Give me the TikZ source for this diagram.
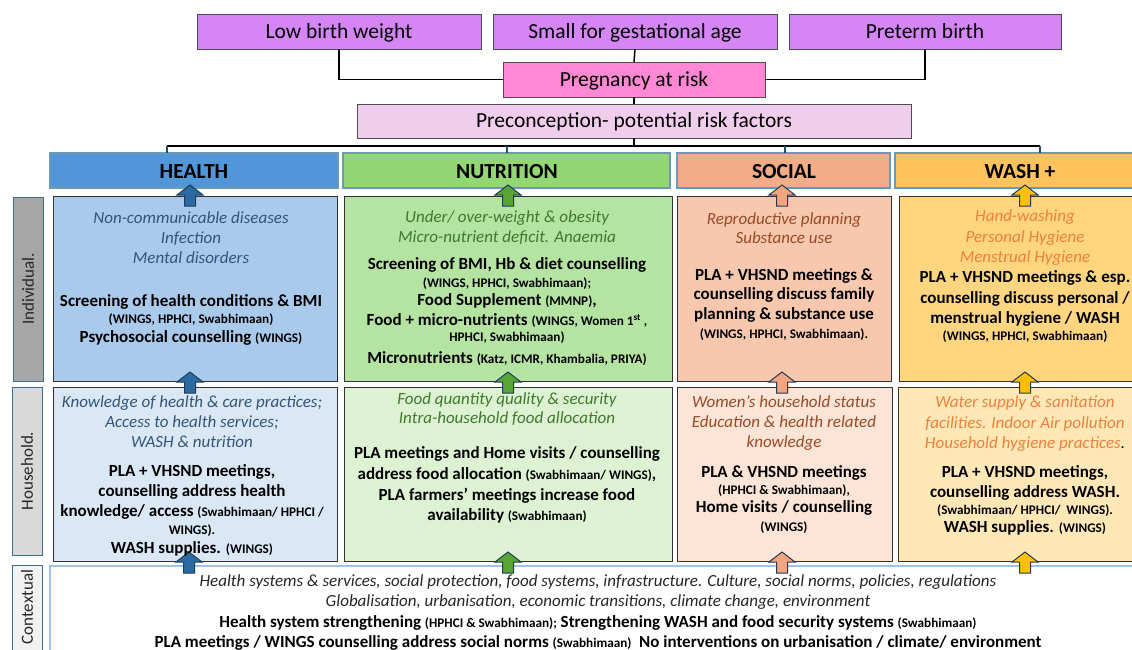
\documentclass[tikz,border=0pt]{standalone}
\usepackage{fontspec}
\setmainfont{Carlito}
\definecolor{violetbox}{HTML}{D685F7}
\definecolor{pinkbox}{HTML}{FF88D4}
\definecolor{preconbox}{HTML}{F0CDEC}
\definecolor{hHead}{HTML}{5096D8}
\definecolor{nHead}{HTML}{92D774}
\definecolor{sHead}{HTML}{F2AC88}
\definecolor{wHead}{HTML}{FFC25C}
\definecolor{hInd}{HTML}{A9CAEB}
\definecolor{nInd}{HTML}{B5E3A2}
\definecolor{sInd}{HTML}{F7C8AE}
\definecolor{wInd}{HTML}{FFD67F}
\definecolor{hHH}{HTML}{DAE8F6}
\definecolor{nHH}{HTML}{DDF2D2}
\definecolor{sHH}{HTML}{FCE4D6}
\definecolor{wHH}{HTML}{FFE8B6}
\definecolor{hIt}{HTML}{34557A}
\definecolor{nIt}{HTML}{3E7A2C}
\definecolor{sIt}{HTML}{9A4A26}
\definecolor{wIt}{HTML}{F0803C}
\definecolor{cIt}{HTML}{262626}
\definecolor{hArr}{HTML}{2C6AA3}
\definecolor{nArr}{HTML}{58A536}
\definecolor{sArr}{HTML}{F4A47E}
\definecolor{wArr}{HTML}{FFC000}
\definecolor{arrEdge}{HTML}{1F3B57}
\definecolor{headEdge}{HTML}{6A9AB8}
\definecolor{labEdge}{HTML}{3A6F92}
\definecolor{ctxEdge}{HTML}{9DC3E6}
\definecolor{busBlue}{HTML}{1F4E79}
\newcommand\titlefont{\fontsize{21.5}{25}\selectfont}
\newcommand\headfont{\fontsize{21.5}{25}\selectfont\bfseries}
\newcommand\itfont{\fontsize{17}{20}\selectfont\itshape}
\newcommand\bdfont{\fontsize{17}{20}\selectfont\bfseries}
\newcommand\smfont{\fontsize{13.2}{15}\selectfont\bfseries}
\newcommand\labfont{\fontsize{17}{20}\selectfont}
\newcommand\sm[1]{{\smfont #1}}
\newcommand\blockarrow[4]{%
  \coordinate (#1) at (#2,#3);
  \draw[arrEdge, line width=1pt, line join=miter, fill=#4] (#1) -- ++(13,10) -- ++(-7.5,0) -- ++(0,11) -- ++(-11,0) -- ++(0,-11) -- ++(-7.5,0) -- cycle;}
\begin{document}
\begin{tikzpicture}[x=1pt,y=-1pt,
  every node/.style={inner sep=0pt, outer sep=0pt},
  topbox/.style={draw=black!70, line width=0.8pt, fill=violetbox, font=\titlefont, text height=17pt, text depth=3pt},
  headbox/.style={draw=headEdge, line width=1.2pt},
  headtext/.style={anchor=base, font=\headfont},
  cellbox/.style={draw=black!80, line width=0.9pt, anchor=north west},
  labbox/.style={draw=labEdge, line width=1pt, anchor=north west},
  labtext/.style={rotate=90, font=\labfont, text=black!85},
  it/.style={anchor=base, font=\itfont},
  bd/.style={anchor=base, font=\bdfont},
  sm/.style={anchor=base, font=\smfont},
  link/.style={line width=1.5pt, black}
]
\useasboundingbox (0,0) rectangle (1132,650);
\clip (0,0) rectangle (1132,650);

% top outcome boxes
\node[topbox, minimum width=284, minimum height=35] (lbw) at (339,31.5) {Low birth weight};
\node[topbox, minimum width=284, minimum height=35] (sga) at (635,31.5) {Small for gestational age};
\node[topbox, minimum width=272, minimum height=35] (ptb) at (925,31.5) {Preterm birth};
\node[topbox, fill=pinkbox, minimum width=262, minimum height=35] (preg) at (634,79.5) {Pregnancy at risk};
\node[topbox, fill=preconbox, minimum width=554, minimum height=34] (precon) at (634,121) {Preconception- potential risk factors};

\draw[link] (lbw.south) |- (preg.west);
\draw[link] (sga.south) -- (preg.north);
\draw[link] (ptb.south) |- (preg.east);
\draw[link] (preg.south) -- (precon.north);

% column headers
\node[headbox, fill=hHead, minimum width=288, minimum height=35, anchor=north west] (hhead) at (50,153) {};
\node[headbox, fill=nHead, minimum width=327, minimum height=35, anchor=north west] (nhead) at (343,153) {};
\node[headbox, fill=sHead, minimum width=213, minimum height=35, anchor=north west] (shead) at (677,153) {};
\node[headbox, fill=wHead, minimum width=253, minimum height=35, anchor=north west] (whead) at (895,153) {};
\node[headtext] (hheadt) at (194,178) {HEALTH};
\node[headtext] (nheadt) at (507,178) {NUTRITION};
\node[headtext] (sheadt) at (784,178) {SOCIAL};
\node[headtext] (wheadt) at (1020,178) {WASH +};

% bus
\coordinate (busL) at (167,146);
\coordinate (busR) at (1040,146);
\coordinate (busN) at (507,146);
\coordinate (busS) at (785,146);
\draw[link] (precon.south) -- (precon.south |- busL);
\draw[link] (busL) -- (busR);
\draw[line width=1.3pt, busBlue] (busL) -- (busL |- hhead.north);
\draw[line width=1.3pt, busBlue] (busN) -- (busN |- nhead.north);
\draw[line width=1.3pt, busBlue] (busS) -- (busS |- shead.north);
\draw[line width=1.3pt, busBlue] (busR) -- (busR |- whead.north);

% row labels
\node[labbox, fill=black!35, minimum width=30, minimum height=184] (labI) at (13,197) {};
\node[labtext] (labIt) at (28,289) {Individual.};
\node[labbox, fill=black!15, minimum width=30, minimum height=168] (labH) at (12,387) {};
\node[labtext] (labHt) at (27,471) {Household.};
\node[labbox, fill=black!5, minimum width=30, minimum height=90] (labC) at (12,565) {};
\node[labtext] (labCt) at (27,607) {Contextual};

% individual cells
\node[cellbox, fill=hInd, minimum width=284, minimum height=185] (hind) at (53,196) {};
\node[cellbox, fill=nInd, minimum width=328, minimum height=185] (nind) at (344,196) {};
\node[cellbox, fill=sInd, minimum width=214, minimum height=185] (sind) at (677,196) {};
\node[cellbox, fill=wInd, minimum width=252, minimum height=185] (wind) at (899,196) {};

% household cells
\node[cellbox, fill=hHH, minimum width=284, minimum height=174] (hhh) at (53,387) {};
\node[cellbox, fill=nHH, minimum width=328, minimum height=174] (nhh) at (344,387) {};
\node[cellbox, fill=sHH, minimum width=215, minimum height=174] (shh) at (677,387) {};
\node[cellbox, fill=wHH, minimum width=253, minimum height=174] (whh) at (898,387) {};

% contextual box
\node[cellbox, draw=ctxEdge, line width=1.5pt, fill=white, minimum width=1096, minimum height=120] (ctx) at (50,566) {};

% arrows
\blockarrow{ha1}{190}{185}{hArr}
\blockarrow{na1}{508}{185}{nArr}
\blockarrow{sa1}{782}{185}{sArr}
\blockarrow{wa1}{1025}{185}{wArr}
\blockarrow{ha2}{190}{372}{hArr}
\blockarrow{na2}{508}{372}{nArr}
\blockarrow{sa2}{782}{372}{sArr}
\blockarrow{wa2}{1025}{372}{wArr}
\blockarrow{ha3}{189}{552}{hArr}
\blockarrow{na3}{508}{552}{nArr}
\blockarrow{sa3}{782}{552}{sArr}
\blockarrow{wa3}{1025}{552}{wArr}

% Health individual
\node[it, text=hIt] (hi1) at (191,223) {Non-communicable diseases};
\node[it, text=hIt] (hi2) at (191,243) {Infection};
\node[it, text=hIt] (hi3) at (191,263) {Mental disorders};
\node[bd] (hi4) at (191,306) {Screening of health conditions \& BMI};
\node[sm] (hi5) at (191,323) {(WINGS, HPHCI, Swabhimaan)};
\node[bd] (hi6) at (191,342) {Psychosocial counselling \sm{(WINGS)}};

% Nutrition individual
\node[it, text=nIt] (ni1) at (507,222) {Under/ over-weight \& obesity};
\node[it, text=nIt] (ni2) at (507,242) {Micro-nutrient deficit. Anaemia};
\node[bd] (ni3) at (507,269) {Screening of BMI, Hb \& diet counselling};
\node[sm] (ni4) at (507,287) {(WINGS, HPHCI, Swabhimaan);};
\node[bd] (ni5) at (507,305) {Food Supplement \sm{(MMNP)},};
\node[bd] (ni6) at (507,325) {Food + micro-nutrients \sm{(WINGS, Women 1\textsuperscript{st} ,}};
\node[sm] (ni7) at (507,341) {HPHCI, Swabhimaan)};
\node[bd] (ni8) at (507,363) {Micronutrients \sm{(Katz, ICMR, Khambalia, PRIYA)}};

% Social individual
\node[it, text=sIt] (si1) at (784,224) {Reproductive planning};
\node[it, text=sIt] (si2) at (784,243) {Substance use};
\node[bd] (si3) at (784,280) {PLA + VHSND meetings \&};
\node[bd] (si4) at (784,299) {counselling discuss family};
\node[bd] (si5) at (784,319) {planning \& substance use};
\node[sm] (si6) at (784,338) {(WINGS, HPHCI, Swabhimaan).};

% WASH individual
\node[it, text=wIt] (wi1) at (1025,221) {Hand-washing};
\node[it, text=wIt] (wi2) at (1025,242) {Personal Hygiene};
\node[it, text=wIt] (wi3) at (1025,262) {Menstrual Hygiene};
\node[bd] (wi4) at (1025,282) {PLA + VHSND meetings \& esp.};
\node[bd] (wi5) at (1025,303) {counselling discuss personal /};
\node[bd] (wi6) at (1025,323) {menstrual hygiene / WASH};
\node[sm] (wi7) at (1025,340) {(WINGS, HPHCI, Swabhimaan)};

% Health household
\node[it, text=hIt] (hh1) at (192,407) {Knowledge of health \& care practices;};
\node[it, text=hIt] (hh2) at (192,427) {Access to health services;};
\node[it, text=hIt] (hh3) at (192,447) {WASH \& nutrition};
\node[bd] (hh4) at (192,476) {PLA + VHSND meetings,};
\node[bd] (hh5) at (192,496) {counselling address health};
\node[bd] (hh6) at (192,516) {knowledge/ access \sm{(Swabhimaan/ HPHCI /}};
\node[sm] (hh7) at (192,534) {WINGS).};
\node[bd] (hh8) at (192,553) {WASH supplies. \sm{(WINGS)}};

% Nutrition household
\node[it, text=nIt] (nh1) at (507,404) {Food quantity quality \& security};
\node[it, text=nIt] (nh2) at (507,423) {Intra-household food allocation};
\node[bd] (nh3) at (507,458) {PLA meetings and Home visits / counselling};
\node[bd] (nh4) at (507,479) {address food allocation \sm{(Swabhimaan/ WINGS)},};
\node[bd] (nh5) at (507,500) {PLA farmers’ meetings increase food};
\node[bd] (nh6) at (507,520) {availability \sm{(Swabhimaan)}};

% Social household
\node[it, text=sIt] (sh1) at (784,407) {Women’s household status};
\node[it, text=sIt] (sh2) at (784,427) {Education \& health related};
\node[it, text=sIt] (sh3) at (784,447) {knowledge};
\node[bd] (sh4) at (784,477) {PLA \& VHSND meetings};
\node[sm] (sh5) at (784,494) {(HPHCI \& Swabhimaan),};
\node[bd] (sh6) at (784,512) {Home visits / counselling};
\node[sm] (sh7) at (784,531) {(WINGS)};

% WASH household
\node[it, text=wIt] (wh1) at (1025,407) {Water supply \& sanitation};
\node[it, text=wIt] (wh2) at (1025,428) {facilities. Indoor Air pollution};
\node[it, text=wIt] (wh3) at (1025,448) {Household hygiene practices{\color{black}.}};
\node[bd] (wh4) at (1025,477) {PLA + VHSND meetings,};
\node[bd] (wh5) at (1025,497) {counselling address WASH.};
\node[sm] (wh6) at (1025,514) {(Swabhimaan/ HPHCI/~ WINGS).};
\node[bd] (wh7) at (1025,532) {WASH supplies. \sm{(WINGS)}};

% Contextual
\node[it, text=cIt] (c1) at (598,586) {Health systems \& services, social protection, food systems, infrastructure. Culture, social norms, policies, regulations};
\node[it, text=cIt] (c2) at (598,606) {Globalisation, urbanisation, economic transitions, climate change, environment};
\node[bd] (c3) at (598,627) {Health system strengthening \sm{(HPHCI \& Swabhimaan);} Strengthening WASH and food security systems \sm{(Swabhimaan)}};
\node[bd] (c4) at (598,647) {PLA meetings / WINGS counselling address social norms \sm{(Swabhimaan)}~ No interventions on urbanisation / climate/ environment};
\end{tikzpicture}
\end{document}
